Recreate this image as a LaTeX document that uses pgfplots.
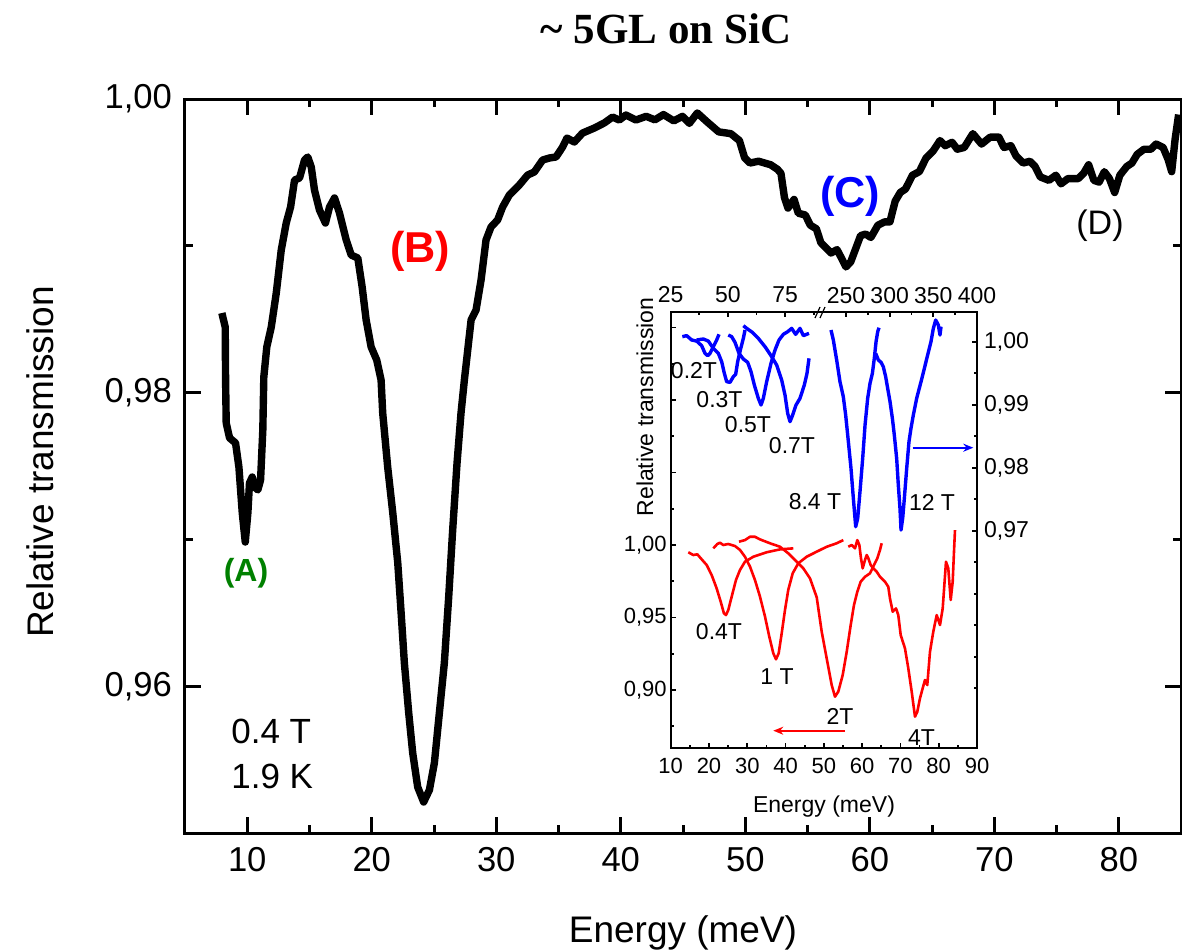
\documentclass[border=0pt]{standalone}
\usepackage{pgfplots}
\pgfplotsset{compat=1.18}
\usepackage{fontspec}
\setmainfont{Liberation Sans}
\newfontfamily\serifbf{Liberation Serif}
\usetikzlibrary{arrows.meta}
\definecolor{agreen}{RGB}{0,128,0}

\begin{document}
\begin{tikzpicture}
\path[use as bounding box] (-92.5pt,-58.5pt) rectangle (498.5pt,416.5pt);

% ---------------- main axis ----------------
\begin{axis}[
  at={(0pt,0pt)}, anchor=south west,
  width=498pt, height=367pt, scale only axis,
  xmin=5, xmax=85, ymin=0.95, ymax=1.00,
  xtick={10,20,...,80}, minor xtick={5,15,...,85},
  ytick={0.96,0.98,1.00}, yticklabels={{0,96},{0,98},{1,00}},
  minor ytick={0.95,0.97,0.99},
  tick align=inside,
  major tick length=8pt, minor tick length=4pt,
  axis line style={line width=1.5pt},
  tick style={line width=1.5pt, black},
  /pgf/number format/assume math mode=true,
  ticklabel style={font=\fontsize{17.3}{19}\selectfont},
  xticklabel style={yshift=-3.5pt},
  yticklabel style={xshift=-3pt},
]
\addplot[black, line width=3.7pt, line join=round] coordinates {
(7.96,0.98542)(8.23,0.98447)(8.26,0.98086)(8.31,0.97793)(8.58,0.97691)(9.06,0.97657)
(9.33,0.97493)(9.60,0.97180)(9.84,0.96982)(10.05,0.97180)(10.18,0.97384)(10.40,0.97425)
(10.59,0.97357)(10.85,0.97337)(11.07,0.97405)(11.25,0.97745)(11.33,0.98106)(11.57,0.98311)
(11.93,0.98447)(12.33,0.98678)(12.73,0.98971)(13.13,0.99155)(13.48,0.99264)(13.80,0.99448)
(14.20,0.99462)(14.60,0.99584)(14.86,0.99605)(15.14,0.99537)(15.40,0.99380)(15.80,0.99244)
(16.28,0.99155)(16.61,0.99264)(17.01,0.99326)(17.41,0.99223)(17.95,0.99040)(18.35,0.98937)
(18.88,0.98917)(19.23,0.98719)(19.55,0.98495)(19.95,0.98311)(20.40,0.98222)(20.75,0.98086)
(20.88,0.97861)(21.28,0.97493)(21.69,0.97180)(22.09,0.96839)(22.36,0.96499)(22.62,0.96158)
(22.97,0.95817)(23.29,0.95545)(23.69,0.95313)(24.17,0.95211)(24.63,0.95293)(25.03,0.95477)
(25.43,0.95817)(25.83,0.96158)(26.18,0.96608)(26.50,0.97064)(26.85,0.97520)(27.17,0.97861)
(27.44,0.98086)(27.98,0.98495)(28.38,0.98563)(28.78,0.98767)(29.18,0.99040)(29.58,0.99128)
(30.11,0.99176)(30.51,0.99264)(31.05,0.99346)(31.85,0.99414)(32.52,0.99482)(33.06,0.99503)
(33.72,0.99584)(34.26,0.99598)(34.80,0.99605)(35.33,0.99673)(35.68,0.99734)(36.27,0.99707)
(36.93,0.99768)(37.87,0.99802)(38.68,0.99837)(39.34,0.99877)(39.88,0.99857)(40.42,0.99891)
(41.22,0.99857)(42.04,0.99882)(42.74,0.99858)(43.43,0.99894)(44.26,0.99851)(44.96,0.99882)
(45.51,0.99834)(46.15,0.99905)(46.90,0.99847)(47.87,0.99776)(48.84,0.99764)(49.53,0.99717)
(49.95,0.99599)(50.37,0.99564)(51.07,0.99576)(52.04,0.99552)(52.59,0.99521)(52.87,0.99493)
(53.15,0.99328)(53.43,0.99257)(53.92,0.99316)(54.26,0.99222)(54.82,0.99210)(55.23,0.99140)
(55.71,0.99116)(56.07,0.99022)(56.48,0.98986)(56.89,0.98951)(57.37,0.98974)(57.73,0.98916)
(58.09,0.98856)(58.48,0.98892)(58.84,0.98974)(59.26,0.99069)(59.67,0.99080)(60.09,0.99057)
(60.65,0.99140)(61.20,0.99163)(61.62,0.99163)(62.04,0.99304)(62.45,0.99363)(62.87,0.99387)
(63.43,0.99481)(63.98,0.99505)(64.53,0.99599)(65.09,0.99646)(65.64,0.99717)(66.06,0.99682)
(66.61,0.99705)(67.03,0.99658)(67.59,0.99670)(68.28,0.99764)(68.98,0.99693)(69.67,0.99740)
(70.37,0.99740)(70.78,0.99670)(71.34,0.99682)(71.76,0.99611)(72.31,0.99564)(72.87,0.99576)
(73.28,0.99540)(73.70,0.99469)(74.39,0.99446)(74.95,0.99481)(75.36,0.99422)(75.92,0.99458)
(76.75,0.99458)(77.17,0.99493)(77.58,0.99552)(78.00,0.99446)(78.42,0.99434)(78.84,0.99505)
(79.25,0.99458)(79.67,0.99363)(80.09,0.99481)(80.64,0.99540)(81.06,0.99564)(81.48,0.99623)
(82.03,0.99658)(82.58,0.99658)(83.00,0.99693)(83.56,0.99670)(83.97,0.99587)(84.25,0.99505)
(84.53,0.99729)(84.81,0.99894)
};
\end{axis}

% ---------------- inset: red (bottom / left axes) ----------------
\begin{axis}[
  at={(242.85pt,42.5pt)}, anchor=south west,
  width=153.15pt, height=217.85pt, scale only axis,
  xmin=10, xmax=90, ymin=0.86, ymax=1.1605,
  xtick={10,20,...,90}, minor xtick={15,25,...,85},
  ytick={0.90,0.95,1.00,1.05,1.10,1.15},
  yticklabels={{0,90},{0,95},{1,00},{},{},{}},
  minor ytick={0.875,0.925,0.975,1.025,1.075,1.125},
  tick pos=left, tick align=inside,
  major tick length=2.5pt, minor tick length=1.5pt,
  axis line style={line width=0.9pt},
  tick style={line width=0.9pt, black},
  /pgf/number format/assume math mode=true,
  ticklabel style={font=\fontsize{11}{12}\selectfont},
  xticklabel style={yshift=-1.5pt},
  yticklabel style={xshift=1.5pt},
]
\addplot[red, line width=1.3pt, line join=round] coordinates {
(14.60,0.9950)(15.9,0.9931)(16.95,0.9936)(18.1,0.9901)(19.4,0.9862)(20.7,0.9793)
(22.0,0.9701)(23.06,0.9609)(23.9,0.9529)(24.44,0.9517)(25.04,0.9552)(25.93,0.9644)
(27.05,0.9759)(28.1,0.9828)(29.4,0.9885)(31.57,0.9919)(35.07,0.9950)(38.55,0.9970)(42.02,0.9977)
};
\addplot[red, line width=1.3pt, line join=round] coordinates {
(21.13,0.9977)(22.17,1.0007)(22.88,1.0016)(23.74,1.0000)(25.04,1.0007)(26.79,0.9993)
(28.1,0.9966)(29.4,0.9919)(30.71,0.9851)(32.0,0.9759)(33.32,0.9644)(34.63,0.9506)
(35.75,0.9368)(36.8,0.9253)(37.5,0.9212)(38.2,0.9253)(38.99,0.9391)(39.85,0.9552)
(40.7,0.9690)(41.86,0.9805)(43.33,0.9874)(45.5,0.9919)(48.13,0.9954)(50.74,0.9988)
(53.35,1.0012)(55.08,1.0034)
};
\addplot[red, line width=1.3pt, line join=round] coordinates {
(27.84,1.0023)(29.4,1.0034)(30.71,1.0057)(32.0,1.0057)(33.3,1.0039)(35.93,1.0012)
(38.55,0.9988)(40.7,0.9943)(42.9,0.9885)(44.63,0.9839)(46.38,0.9770)(48.13,0.9640)
(49.44,0.9402)(50.74,0.9218)(52.05,0.9034)(52.91,0.8954)(53.77,0.8989)(54.92,0.9103)
(55.97,0.9264)(57.01,0.9448)(57.87,0.9586)(58.74,0.9678)(59.62,0.9747)(60.75,0.9781)
(62.05,0.9805)(63.10,0.9862)(63.96,0.9908)(64.66,0.9966)(65.11,1.0012)
};
\addplot[red, line width=1.3pt, line join=round] coordinates {
(56.38,0.9988)(57.27,1.0000)(58.13,0.9977)(58.74,1.0034)(59.27,1.0000)(59.7,0.9908)
(60.14,0.9839)(60.75,0.9897)(61.19,0.9931)(61.62,0.9908)(62.23,0.9862)(62.92,0.9839)
(63.80,0.9816)(64.66,0.9781)(65.97,0.9747)(66.83,0.9712)(67.27,0.9632)(67.98,0.9540)
(68.84,0.9563)(69.44,0.9517)(70.07,0.9379)(71.19,0.9287)(72.05,0.9150)(72.94,0.8989)
(73.80,0.8816)(74.41,0.8850)(75.11,0.8943)(75.81,0.9012)(76.41,0.9069)(77.01,0.9034)
(77.72,0.9264)(78.58,0.9402)(79.47,0.9517)(80.33,0.9448)(81.04,0.9563)(81.90,0.9885)
(82.50,0.9839)(83.13,0.9621)(83.65,0.9747)(83.99,0.9954)(84.25,1.0103)
};
\end{axis}

% ---------------- inset: blue, left segment of top axis ----------------
\begin{axis}[
  at={(242.85pt,42.5pt)}, anchor=south west,
  width=75.15pt, height=217.85pt, scale only axis,
  xmin=25, xmax=90.63, ymin=0.93551, ymax=1.00467,
  axis x line*=top, hide y axis,
  xtick={25,50,75}, minor xtick={37.5,62.5,87.5},
  xtick align=inside,
  major tick length=2.5pt, minor tick length=1.5pt,
  axis line style={line width=0.9pt},
  tick style={line width=0.9pt, black},
  /pgf/number format/assume math mode=true,
  ticklabel style={font=\fontsize{11.5}{12}\selectfont},
  xticklabel style={yshift=1pt},
]
\addplot[blue, line width=1.7pt, line join=round] coordinates {
(30.08,1.0008)(31.97,1.00096)(34.16,1.00027)(36.34,1.0001)(38.52,0.99937)(39.98,0.99815)
(41.14,0.99778)(42.16,0.99815)(43.62,0.99921)(45.07,1.00027)(46.09,1.00117)
};
\addplot[blue, line width=1.7pt, line join=round] coordinates {
(36.34,1.00027)(39.25,1.00043)(41.43,1.0001)(43.62,0.99895)(45.80,0.99815)(47.26,0.99683)
(48.42,0.99498)(49.44,0.99366)(50.90,0.99355)(52.35,0.99445)(53.37,0.99482)(54.24,0.99683)
(55.41,0.99868)(56.72,1.00053)(57.45,1.00186)
};
\addplot[blue, line width=1.7pt, line join=round] coordinates {
(50.17,1.00106)(51.62,1.00080)(53.08,0.9999)(54.83,0.99815)(56.72,0.99725)(58.61,0.99673)
(60.07,0.99524)(61.52,0.99313)(63.27,0.99101)(64.43,0.98995)(65.45,0.99101)(66.91,0.99366)
(68.80,0.99657)(70.55,0.99868)(72.29,1.00027)(74.18,1.00117)(76.08,1.00159)(77.83,1.00212)
(79.57,1.00117)(81.46,1.00212)(82.92,1.00096)(85.39,1.00133)
};
\addplot[blue, line width=1.7pt, line join=round] coordinates {
(56.72,1.00254)(58.17,1.00212)(60.65,1.00149)(63.27,1.00053)(66.18,0.99921)(68.80,0.99778)
(71.27,0.9963)(73.46,0.99392)(74.91,0.99154)(76.08,0.98863)(77.10,0.98731)(78.26,0.98837)
(79.72,0.98995)(81.46,0.99101)(83.35,0.99313)(84.52,0.99498)(85.39,0.99736)
};
\end{axis}

% ---------------- inset: blue, right segment of top axis + right axis ----------------
\begin{axis}[
  at={(320pt,42.5pt)}, anchor=south west,
  width=76pt, height=217.85pt, scale only axis,
  xmin=225.95, xmax=400, ymin=0.93551, ymax=1.00467,
  axis x line*=top, axis y line*=right,
  xtick={250,300,350,400}, minor xtick={275,325,375},
  ytick={0.97,0.98,0.99,1.00}, yticklabels={{0,97},{0,98},{0,99},{1,00}},
  minor ytick={0.945,0.95,0.955,0.96,0.965,0.975,0.985,0.995},
  tick align=inside,
  major tick length=2.5pt, minor tick length=1.5pt,
  axis line style={line width=0.9pt},
  tick style={line width=0.9pt, black},
  /pgf/number format/assume math mode=true,
  ticklabel style={font=\fontsize{11.5}{12}\selectfont},
  xticklabel style={yshift=1pt},
]
\addplot[blue, line width=1.7pt, line join=round] coordinates {
(232.8,1.00186)(235.5,1.00027)(239.3,0.99710)(243.1,0.99366)(246.9,0.99127)(249.6,0.98837)
(252.7,0.98413)(255.7,0.97990)(258.4,0.97514)(261.1,0.97064)(263.4,0.97197)(266.0,0.97619)
(269.1,0.98149)(271.8,0.98678)(274.8,0.99101)(277.5,0.99339)(280.2,0.99498)(282.4,0.99736)
(284.4,1.0000)(286.3,1.00159)(287.8,1.00222)
};
\addplot[blue, line width=1.7pt, line join=round] coordinates {
(284.0,0.99815)(287.0,0.99710)(290.1,0.99673)(292.7,0.99604)(295.4,0.99445)(297.7,0.99260)
(300.4,0.99048)(303.1,0.98784)(305.3,0.98519)(308.0,0.98149)(309.9,0.97725)(311.8,0.97355)
(313.0,0.97011)(314.9,0.97197)(316.8,0.97514)(319.5,0.97990)(322.1,0.98413)(324.4,0.98625)
(327.1,0.98837)(330.9,0.99101)(335.9,0.99366)(339.7,0.99577)(343.5,0.99789)(347.3,1.0000)
(350.0,1.00212)(352.7,1.00344)(355.7,1.00265)(357.6,1.00106)(358.8,1.00239)
};
\end{axis}

% ---------------- text, in pixel coordinates of the reference ----------------
\begin{scope}[x=0.5pt, y=-0.5pt, shift={(-92.5pt,416.5pt)}]
\node[anchor=base, inner sep=0, font=\serifbf\bfseries\fontsize{21.5}{24}\selectfont] at (666,43) {\textasciitilde{} 5GL on SiC};
\node[rotate=90, inner sep=0, font=\fontsize{18.5}{20}\selectfont] at (40,462) {Relative transmission};
\node[anchor=base, inner sep=0, font=\fontsize{18.5}{20}\selectfont] at (683,942) {Energy (meV)};

\node[inner sep=0, text=agreen, font=\bfseries\fontsize{16}{18}\selectfont] at (246,573) {(A)};
\node[inner sep=0, text=red, font=\bfseries\fontsize{21.6}{24}\selectfont] at (420,251) {(B)};
\node[inner sep=0, text=blue, font=\bfseries\fontsize{21.6}{24}\selectfont] at (850,196) {(C)};
\node[inner sep=0, font=\fontsize{17}{19}\selectfont] at (1100,226) {(D)};
\node[anchor=base west, inner sep=0, font=\fontsize{17.5}{19}\selectfont] at (231,743) {0.4 T};
\node[anchor=base west, inner sep=0, font=\fontsize{17.5}{19}\selectfont] at (231,788) {1.9 K};

% inset texts
\node[rotate=90, inner sep=0, font=\fontsize{11.5}{13}\selectfont] at (645,407) {Relative transmission};
\node[anchor=base, inner sep=0, font=\fontsize{11.5}{13}\selectfont] at (824,812) {Energy (meV)};
\begin{scope}[every node/.style={inner sep=0, font=\fontsize{11.5}{13}\selectfont}]
\node at (694,371) {0.2T};
\node at (719.5,400) {0.3T};
\node at (748,425) {0.5T};
\node at (792,446) {0.7T};
\node at (815,502) {8.4 T};
\node at (932,502) {12 T};
\node at (719,632) {0.4T};
\node at (777,677) {1 T};
\node at (840,716) {2T};
\node at (921.5,738) {4T};
\end{scope}
\draw[blue, line width=0.8pt, -{Stealth[length=5pt,width=4pt]}] (912.7,447.7) -- (973.3,447.7);
\draw[red, line width=0.8pt, -{Stealth[length=5pt,width=4pt]}] (845,730.7) -- (773.3,730.7);
\draw[line width=0.6pt] (815,318) -- (820,307) (820,318) -- (825,307);
\end{scope}
\end{tikzpicture}
\end{document}
